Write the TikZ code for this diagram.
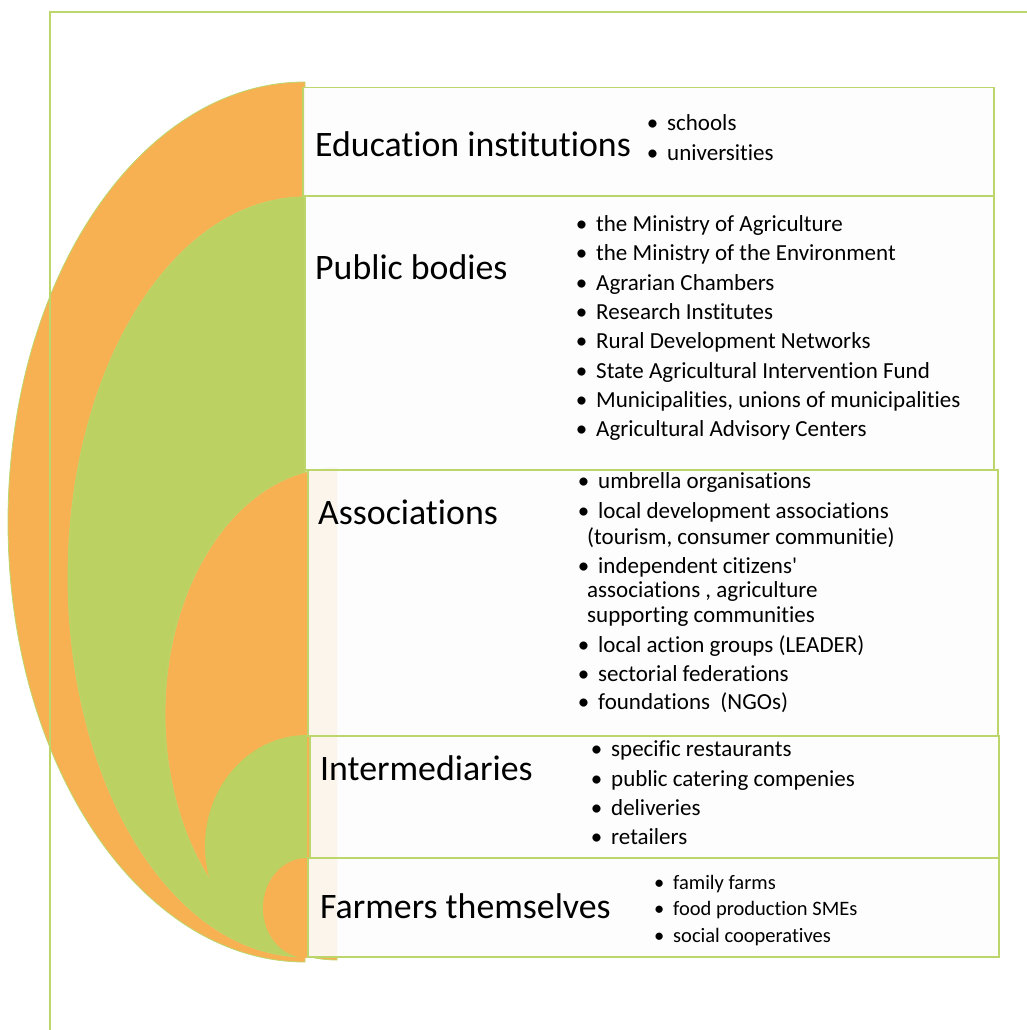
\documentclass[tikz,border=0pt]{standalone}
\usepackage{fontspec}
\setmainfont{Carlito}[Ligatures={NoCommon}]
\definecolor{fruit}{RGB}{247,177,82}
\definecolor{leaf}{RGB}{187,210,98}
\definecolor{rim}{RGB}{188,214,108}
\definecolor{paper}{RGB}{253,253,253}
\newcommand{\bul}{\llap{\textbullet\hspace{9pt}}}

\begin{document}
\begin{tikzpicture}[x=1pt, y=-1pt,
	title/.style={anchor=base west, inner sep=0, font=\fontsize{35.8}{42}\selectfont},
	item/.style={anchor=base west, inner sep=0, font=\fontsize{23}{28}\selectfont},
	smallitem/.style={item, font=\fontsize{20.5}{25}\selectfont},
	box/.style={draw=rim, line width=1.5pt, fill=paper, fill opacity=0.9, anchor=north west, inner sep=0},
	band/.style={draw=rim, line width=0.8pt}]

\useasboundingbox (0,0) rectangle (1027,1030);

% Nested half ellipses
\fill[fruit, band] (305,82) arc[start angle=270, end angle=90, x radius=297, y radius=440] -- cycle;
\fill[leaf, band] (305,197) arc[start angle=270, end angle=90, x radius=237, y radius=380] -- cycle;
\fill[fruit, band] (337,468) arc[start angle=270, end angle=90, x radius=172, y radius=246] -- cycle;
\fill[leaf] (307,735) arc[start angle=270, end angle=90, x radius=102, y radius=111] -- cycle;
\fill[fruit] (307,858) arc[start angle=270, end angle=90, x radius=44, y radius=50] -- cycle;

% Frame
\draw[rim, line width=1.5pt] (50,1030) -- (50,12) -- (1027,12);

% Boxes
\node[box, minimum width=691pt, minimum height=108pt] (edubox) at (302,87) {};
\node[box, minimum width=689pt, minimum height=274pt] (pubbox) at (304,195) {};
\node[box, minimum width=690pt, minimum height=266pt] (assbox) at (307,469) {};
\node[box, minimum width=689pt, minimum height=122pt] (intbox) at (309,735) {};
\node[box, minimum width=691pt, minimum height=99pt] (farbox) at (307,857) {};

% Titles
\node[title] (edu) at (315,157) {Education institutions};
\node[title] (pub) at (315,279) {Public bodies};
\node[title] (ass) at (318,524) {Associations};
\node[title] (int) at (320,780) {Intermediaries};
\node[title] (far) at (320,918) {Farmers themselves};

% Education institutions
\foreach \y/\txt [count=\i] in {131/schools, 160/universities}
	\node[item] (edu\i) at (667,\y) {\bul\txt};

% Public bodies
\foreach \y/\txt [count=\i] in {231/{the Ministry of Agriculture},
		260/{the Ministry of the Environment},
		290/{Agrarian Chambers},
		319/{Research Institutes},
		348/{Rural Development Networks},
		378/{State Agricultural Intervention Fund},
		407/{Municipalities, unions of municipalities},
		436/{Agricultural Advisory Centers}}
	\node[item] (pub\i) at (596,\y) {\bul\txt};

% Associations
\foreach \y/\txt [count=\i] in {488/{umbrella organisations},
		518/{local development associations},
		573/{independent citizens\textquotesingle},
		652/{local action groups (LEADER)},
		681/{sectorial federations},
		709/{foundations\ \ (NGOs)}}
	\node[item] (ass\i) at (598,\y) {\bul\txt};
\foreach \y/\txt [count=\i] in {544/{(tourism, consumer communitie)},
		597/{associations , agriculture},
		622/{supporting communities}}
	\node[item] (cont\i) at (587,\y) {\txt};

% Intermediaries
\foreach \y/\txt [count=\i] in {756/{specific restaurants},
		786/{public catering compenies},
		815/deliveries,
		844/retailers}
	\node[item] (int\i) at (611,\y) {\bul\txt};

% Farmers themselves
\foreach \y/\txt [count=\i] in {889/{family farms},
		915/{food production SMEs},
		942/{social cooperatives}}
	\node[smallitem] (far\i) at (673,\y) {\bul\txt};
\end{tikzpicture}
\end{document}
